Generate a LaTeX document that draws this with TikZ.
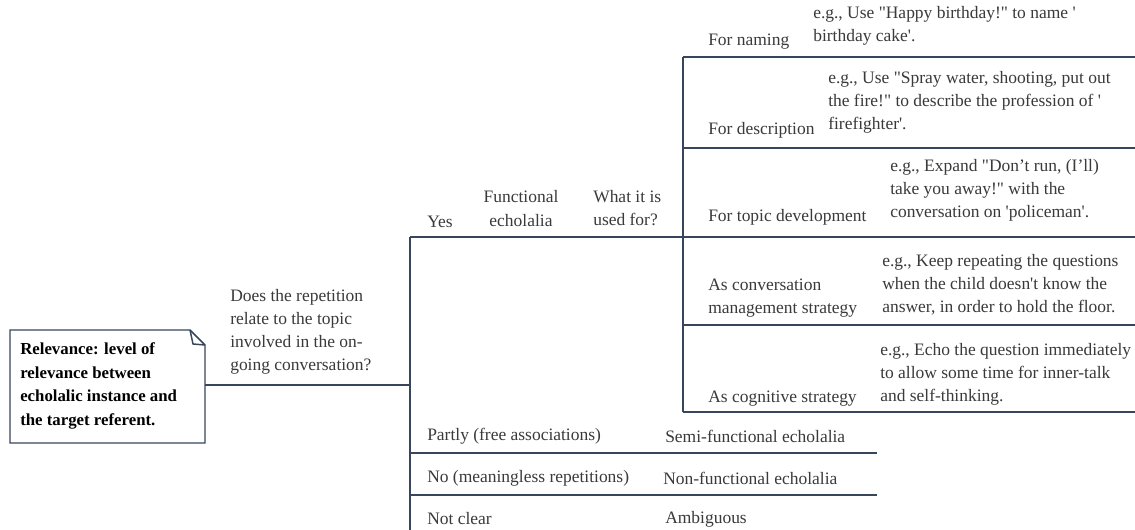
\documentclass[tikz,border=0pt]{standalone}
\usepackage{fontspec}
\setmainfont{Liberation Serif}[Ligatures=TeXOff]
\definecolor{linec}{RGB}{55,70,92}
\definecolor{txt}{RGB}{58,58,58}
\begin{document}
\begin{tikzpicture}[x=0.75pt,y=-0.75pt,
  lbl/.style={anchor=west,inner sep=0pt,align=left,text=txt,font=\fontsize{13.1}{17.3}\selectfont},
  ln/.style={draw=linec,line width=1.1pt}]
\useasboundingbox[fill=white] (0,0) rectangle (1135,530);
% note
\coordinate (nA) at (10,330);
\coordinate (nB) at (190,330);
\coordinate (nC) at (205,345);
\coordinate (nD) at (205,443);
\coordinate (nE) at (10,443);
\coordinate (nF) at (193,344);
\draw[ln,fill=white] (nA) -- (nB) -- (nC) -- (nD) -- (nE) -- cycle;
\draw[ln] (nB) -- (nF) -- (nC);
\node[anchor=west,inner sep=0pt,align=left,font=\fontsize{12.6}{17.7}\selectfont\bfseries] (note) at (20,386) {Relevance: level of\\relevance between\\echolalic instance and\\the target referent.};
% lines
\coordinate (noteR) at (205,385);
\coordinate (q) at (410,385);
\coordinate (vTop) at (410,237);
\coordinate (vBot) at (410,530);
\coordinate (rEnd) at (1135,237);
\draw[ln] (noteR) -- (q);
\draw[ln] (vTop) -- (vBot);
\draw[ln] (vTop) -- (rEnd);
\coordinate (fTop) at (683,57);
\coordinate (fBot) at (683,412);
\draw[ln] (fTop) -- (fBot);
\foreach \yy in {57,148,325,412} \draw[ln] (683,\yy) -- (1135,\yy);
\coordinate (p1) at (410,453); \coordinate (p1e) at (877,453);
\coordinate (p2) at (410,495); \coordinate (p2e) at (877,495);
\draw[ln] (p1) -- (p1e);
\draw[ln] (p2) -- (p2e);
% question
\node[lbl] (quest) at (230,331.5) {Does the repetition\\relate to the topic\\involved in the on-\\going conversation?};
\node[lbl] (yes) at (427,222) {Yes};
\node[lbl,align=center,anchor=center] (func) at (521,208.5) {Functional\\echolalia};
\node[lbl] (what) at (593,208.5) {What it is\\used for?};
% uses
\node[lbl] (u1) at (708,42) {For naming};
\node[lbl] (e1) at (813,25.5) {e.g., Use "Happy birthday!" to name '\\birthday cake'.};
\node[lbl] (u2) at (708,130) {For description};
\node[lbl] (e2) at (828,102) {e.g., Use "Spray water, shooting, put out\\the fire!" to describe the profession of '\\firefighter'.};
\node[lbl] (u3) at (708,217) {For topic development};
\node[lbl] (e3) at (890,190) {e.g., Expand "Don’t run, (I’ll)\\take you away!" with the\\conversation on 'policeman'.};
\node[lbl] (u4) at (708,298.5) {As conversation\\management strategy};
\node[lbl] (e4) at (882,285) {e.g., Keep repeating the questions\\when the child doesn't know the\\answer, in order to hold the floor.};
\node[lbl] (u5) at (708,399) {As cognitive strategy};
\node[lbl] (e5) at (880,374) {e.g., Echo the question immediately\\to allow some time for inner-talk\\and self-thinking.};
% other answers
\node[lbl] (a1) at (427,436) {Partly (free associations)};
\node[lbl] (b1) at (665,436) {Semi-functional echolalia};
\node[lbl] (a2) at (427,478) {No (meaningless repetitions)};
\node[lbl] (b2) at (663,478) {Non-functional echolalia};
\node[lbl] (a3) at (427,519) {Not clear};
\node[lbl] (b3) at (665,519) {Ambiguous};
\end{tikzpicture}
\end{document}
